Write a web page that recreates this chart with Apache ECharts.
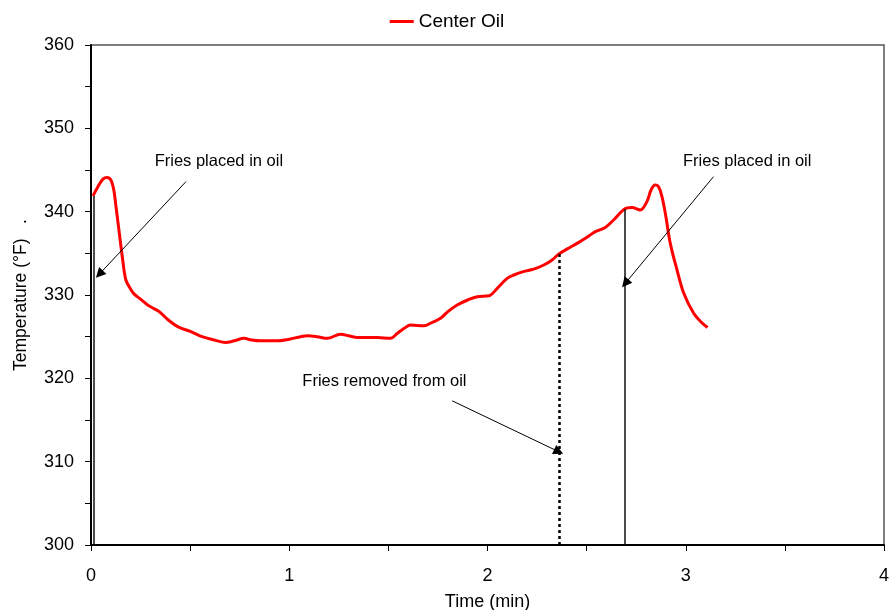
<!DOCTYPE html>
<html>
<head>
<meta charset="utf-8">
<script src="https://cdn.jsdelivr.net/npm/echarts@6/dist/echarts.min.js"></script>
<style>
  html, body { margin: 0; padding: 0; background: #fff; }
  #chart { width: 894px; height: 610px; }
</style>
</head>
<body>
<div id="chart"></div>
<script>
// Center oil temperature during a frying cycle
const timeMin = [
  0.01, 0.035, 0.06, 0.081, 0.10, 0.115, 0.126, 0.143, 0.16, 0.176,
  0.20, 0.218, 0.25, 0.286, 0.315, 0.344, 0.39, 0.437, 0.504, 0.56,
  0.621, 0.68, 0.722, 0.772, 0.81, 0.856, 0.94, 1.0, 1.058, 1.092,
  1.14, 1.192, 1.259, 1.30, 1.344, 1.444, 1.511, 1.545, 1.58, 1.612,
  1.679, 1.72, 1.763, 1.80, 1.847, 1.90, 1.948, 2.007, 2.049, 2.099,
  2.133, 2.18, 2.233, 2.284, 2.326, 2.359, 2.40, 2.452, 2.50, 2.544,
  2.594, 2.636, 2.69, 2.729, 2.771, 2.804, 2.825, 2.845, 2.863, 2.88,
  2.897, 2.922, 2.956, 2.99, 3.04, 3.08, 3.11
];
const centerOil = [
  341.9, 343.0, 343.9, 344.1, 343.8, 342.6, 340.6, 337.4, 334.2, 331.8,
  330.7, 330.1, 329.5, 328.8, 328.4, 328.0, 327.0, 326.2, 325.6, 325.0,
  324.6, 324.3, 324.5, 324.8, 324.6, 324.5, 324.5, 324.7, 325.0, 325.1,
  325.0, 324.8, 325.3, 325.1, 324.9, 324.9, 324.8, 325.4, 326.0, 326.4,
  326.3, 326.7, 327.2, 328.0, 328.8, 329.4, 329.8, 329.9, 330.8, 332.0,
  332.4, 332.8, 333.1, 333.6, 334.2, 334.9, 335.5, 336.2, 336.9, 337.6,
  338.1, 339.0, 340.3, 340.5, 340.2, 341.2, 342.6, 343.2, 343.0, 341.8,
  339.8, 336.2, 333.0, 330.2, 327.8, 326.7, 326.1
];

// Event markers: [time, temperature at top of marker]
const placedMarks = [[0.012, 341.9], [2.69, 340.3]];
const removedMark = [2.36, 334.9];

// Annotation text: [time, temperature, text]
const notes = [
  [0.645, 346.0, 'Fries placed in oil'],
  [3.31, 346.0, 'Fries placed in oil'],
  [1.48, 319.6, 'Fries removed from oil']
];
// Annotation arrows: [fromTime, fromTemp, toTime, toTemp]
const arrows = [
  [0.479, 343.6, 0.042, 332.5],
  [3.14, 344.2, 2.695, 331.4],
  [1.822, 317.3, 2.359, 311.2]
];

const xTicks = { min: 0, max: 4, step: 1 };
const yTicks = { min: 300, max: 360, step: 10 };

const FONT = '"Liberation Sans", Arial, sans-serif';
const chart = echarts.init(document.getElementById('chart'), null, { renderer: 'canvas' });

const lineData = timeMin.map((t, i) => [t, centerOil[i]]);

const markerLines = placedMarks.map(p => [
  { coord: [p[0], yTicks.min], lineStyle: { type: 'solid', width: 1.5, color: '#111' } },
  { coord: [p[0], p[1]] }
]);
markerLines.push([
  { coord: [removedMark[0], yTicks.min], lineStyle: { type: [3, 3], width: 2.5, color: '#000' } },
  { coord: [removedMark[0], removedMark[1]] }
]);

const arrowLines = arrows.map(a => [
  { coord: [a[0], a[1]] },
  { coord: [a[2], a[3]] }
]);

chart.setOption({
  animation: false,
  backgroundColor: '#fff',
  textStyle: { fontFamily: FONT },
  legend: {
    top: 7,
    left: 'center',
    itemWidth: 24,
    itemHeight: 3,
    itemGap: 10,
    icon: 'rect',
    textStyle: { fontSize: 19, color: '#000', fontFamily: FONT },
    data: ['Center Oil']
  },
  grid: {
    left: 91, right: 10, top: 45, bottom: 65,
    containLabel: false,
    outerBoundsMode: 'none',
    show: true, borderColor: '#555', borderWidth: 1.5, backgroundColor: 'transparent'
  },
  xAxis: {
    type: 'value',
    min: xTicks.min, max: xTicks.max, interval: xTicks.step,
    name: 'Time (min)',
    nameLocation: 'middle',
    nameGap: 48,
    nameTextStyle: { fontSize: 18, color: '#000', fontFamily: FONT },
    axisLine: { show: true, lineStyle: { color: '#000', width: 2 } },
    axisTick: { show: true, inside: false, length: 6, lineStyle: { color: '#000', width: 1 } },
    minorTick: { show: true, splitNumber: 2, length: 6, lineStyle: { color: '#000', width: 1 } },
    axisLabel: { fontSize: 18, color: '#000', margin: 22, fontFamily: FONT },
    splitLine: { show: false }
  },
  yAxis: {
    type: 'value',
    min: yTicks.min, max: yTicks.max, interval: yTicks.step,
    name: 'Temperature (\u00B0F)   .',
    nameLocation: 'middle',
    nameRotate: 90,
    nameGap: 61,
    nameTextStyle: { fontSize: 17.5, color: '#000', fontFamily: FONT },
    axisLine: { show: true, lineStyle: { color: '#000', width: 2 } },
    axisTick: { show: true, inside: false, length: 6, lineStyle: { color: '#000', width: 1 } },
    minorTick: { show: true, splitNumber: 2, length: 6, lineStyle: { color: '#000', width: 1 } },
    axisLabel: { fontSize: 18, color: '#000', margin: 17, fontFamily: FONT },
    splitLine: { show: false }
  },
  series: [
    {
      name: 'Center Oil',
      type: 'line',
      data: lineData,
      showSymbol: false,
      smooth: 0.35,
      z: 3,
      lineStyle: { color: '#ff0000', width: 3 },
      itemStyle: { color: '#ff0000' }
    },
    {
      // vertical event markers
      name: 'markers',
      type: 'line',
      data: [],
      silent: true,
      z: 2,
      markLine: {
        silent: true,
        symbol: ['none', 'none'],
        label: { show: false },
        data: markerLines
      }
    },
    {
      // annotation arrows and notes
      name: 'notes',
      type: 'line',
      data: [],
      silent: true,
      z: 4,
      markLine: {
        silent: true,
        symbol: ['none', 'triangle'],
        symbolSize: 10,
        label: { show: false },
        lineStyle: { color: '#000', width: 1, type: 'solid' },
        itemStyle: { color: '#000' },
        data: arrowLines
      },
      markPoint: {
        silent: true,
        symbol: 'circle',
        symbolSize: 0,
        label: {
          show: true,
          position: 'inside',
          color: '#000',
          fontSize: 16.5,
          fontFamily: FONT,
          formatter: p => p.name
        },
        data: notes.map(n => ({ name: n[2], coord: [n[0], n[1]] }))
      }
    }
  ]
});
</script>
</body>
</html>
